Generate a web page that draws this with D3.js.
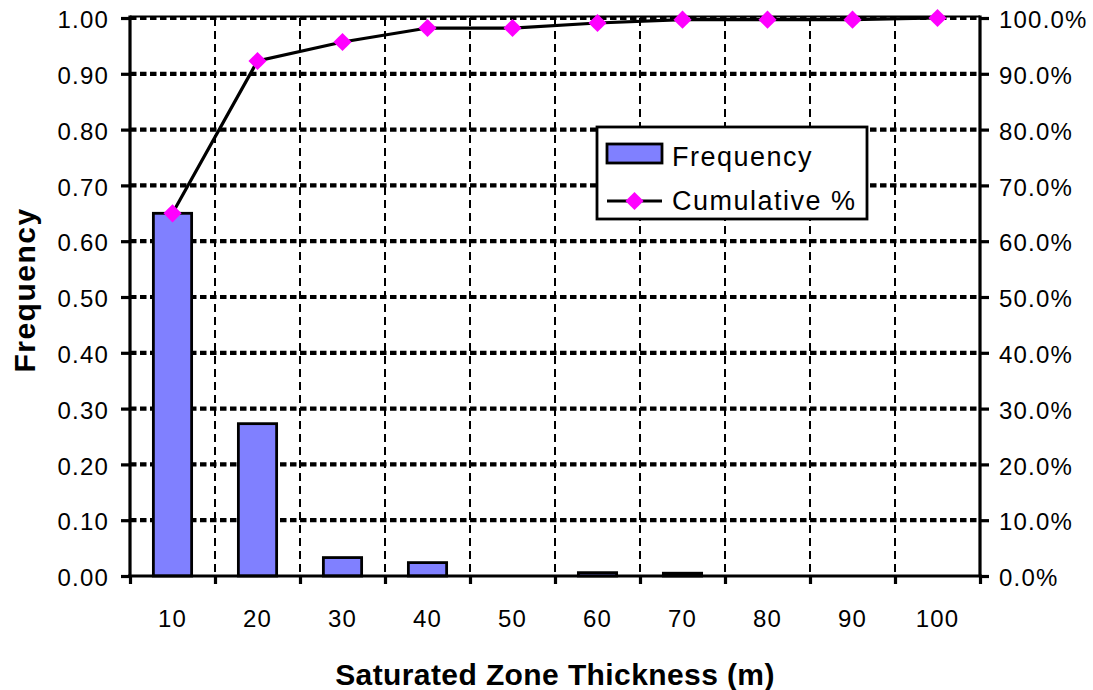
<!DOCTYPE html>
<html>
<head>
<meta charset="utf-8">
<script src="https://cdn.jsdelivr.net/npm/d3@7"></script>
<style>
  body { margin: 0; background: #fff; }
  svg text { font-family: "Liberation Sans", Arial, sans-serif; fill: #000; }
</style>
</head>
<body>
<svg id="chart" width="1093" height="690"></svg>
<script>
const categories = ["10", "20", "30", "40", "50", "60", "70", "80", "90", "100"];
const frequency = [0.65, 0.273, 0.033, 0.024, 0, 0.006, 0.005, 0, 0, 0];
const cumulative = [0.65, 0.923, 0.957, 0.982, 0.982, 0.991, 0.997, 0.997, 0.997, 1.0];
const leftTicks = [0, 0.1, 0.2, 0.3, 0.4, 0.5, 0.6, 0.7, 0.8, 0.9, 1.0];
const xTitle = "Saturated Zone Thickness (m)";
const yTitle = "Frequency";
const legendLabels = ["Frequency", "Cumulative %"];

const svg = d3.select("#chart");
const L = 130, R = 980, T = 18, B = 576;

const x = d3.scaleBand().domain(categories).range([L, R]).padding(0);
const xb = d3.scaleLinear().domain([0, categories.length]).range([L, R]);
const y = d3.scaleLinear().domain([0, 1]).range([B, T]);
const y2 = d3.scaleLinear().domain([0, 1]).range([B, T]);

// vertical dashed grid at band boundaries
svg.append("g").selectAll("line")
  .data(d3.range(1, categories.length))
  .join("line")
  .attr("x1", d => xb(d)).attr("x2", d => xb(d))
  .attr("y1", T).attr("y2", B)
  .attr("stroke", "#000").attr("stroke-width", 2)
  .attr("stroke-dasharray", "8,5");

// horizontal dotted grid
svg.append("g").selectAll("line")
  .data(leftTicks.filter(d => d > 0))
  .join("line")
  .attr("x1", L).attr("x2", R)
  .attr("y1", d => y(d)).attr("y2", d => y(d))
  .attr("stroke", "#000").attr("stroke-width", 4.2)
  .attr("stroke-dasharray", "6.5,3.5");

// top border
svg.append("line").attr("x1", L).attr("x2", R).attr("y1", T - 1.5).attr("y2", T - 1.5)
  .attr("stroke", "#000").attr("stroke-width", 2);

// bars
const bw = x.bandwidth() * 0.45;
svg.append("g").selectAll("rect")
  .data(frequency.map((v, i) => ({ c: categories[i], v })).filter(d => d.v > 0))
  .join("rect")
  .attr("x", d => x(d.c) + x.bandwidth() / 2 - bw / 2)
  .attr("width", bw)
  .attr("y", d => y(d.v))
  .attr("height", d => B - y(d.v))
  .attr("fill", "#8080FF")
  .attr("stroke", "#000").attr("stroke-width", 2.8);

// axes
const fontSize = "24px";
const gl = svg.append("g").attr("transform", `translate(${L},0)`)
  .call(d3.axisLeft(y).tickValues(leftTicks).tickFormat(d3.format(".2f")).tickSize(9).tickPadding(11));
const gr = svg.append("g").attr("transform", `translate(${R},0)`)
  .call(d3.axisRight(y2).tickValues(leftTicks).tickFormat(d3.format(".1%")).tickSize(9).tickPadding(11));
const gb = svg.append("g").attr("transform", `translate(0,${B})`)
  .call(d3.axisBottom(xb).tickValues(d3.range(0, categories.length + 1)).tickFormat("").tickSize(8));
const gbl = svg.append("g").attr("transform", `translate(0,${B})`)
  .call(d3.axisBottom(x).tickSize(0).tickPadding(34));
gbl.select(".domain").remove();

[gl, gr, gb].forEach(g => {
  g.select(".domain").attr("stroke", "#000").attr("stroke-width", 3.2);
  g.selectAll(".tick line").attr("stroke", "#000").attr("stroke-width", 3.2);
});
gb.select(".domain").attr("d", `M${L - 2},0H${R + 2}`);
gl.select(".domain").attr("d", `M0,${B}V${T - 2.5}`);
gr.select(".domain").attr("d", `M0,${B}V${T - 2.5}`);
[gl, gr, gbl].forEach(g => {
  g.selectAll("text").attr("font-size", fontSize).attr("fill", "#000")
    .attr("font-family", "Liberation Sans, Arial, sans-serif")
    .style("letter-spacing", "1.2px");
});
gl.selectAll("text").attr("dy", "0.4em").attr("x", -21);
gr.selectAll("text").attr("dy", "0.4em").attr("x", 19);

// cumulative line
const line = d3.line()
  .x((d, i) => x(categories[i]) + x.bandwidth() / 2)
  .y(d => y2(d));
svg.append("path").datum(cumulative)
  .attr("d", line).attr("fill", "none")
  .attr("stroke", "#000").attr("stroke-width", 3.2);

const diamond = d3.symbol().type(d3.symbolDiamond2).size(210);
svg.append("g").selectAll("path")
  .data(cumulative)
  .join("path")
  .attr("transform", (d, i) => `translate(${x(categories[i]) + x.bandwidth() / 2},${y2(d)})`)
  .attr("d", diamond)
  .attr("fill", "#FF00FF");

// axis titles
svg.append("text")
  .attr("x", (L + R) / 2).attr("y", 685)
  .attr("text-anchor", "middle")
  .attr("font-size", "30px").attr("font-weight", "bold")
  .style("letter-spacing", "0.4px")
  .text(xTitle);
svg.append("text")
  .attr("transform", `translate(35,290) rotate(-90)`)
  .attr("text-anchor", "middle")
  .attr("font-size", "30px").attr("font-weight", "bold")
  .style("letter-spacing", "1.5px")
  .text(yTitle);

// legend
const lg = svg.append("g");
lg.append("rect").attr("x", 597).attr("y", 127).attr("width", 270).attr("height", 92)
  .attr("fill", "#fff").attr("stroke", "#000").attr("stroke-width", 2.8);
lg.append("rect").attr("x", 607).attr("y", 144).attr("width", 55).attr("height", 19)
  .attr("fill", "#8080FF").attr("stroke", "#000").attr("stroke-width", 2.8);
lg.append("line").attr("x1", 607).attr("x2", 662).attr("y1", 201).attr("y2", 201)
  .attr("stroke", "#000").attr("stroke-width", 3.2);
lg.append("path").attr("transform", "translate(634.5,201)").attr("d", diamond).attr("fill", "#FF00FF");
lg.selectAll("text.leg").data(legendLabels).join("text")
  .attr("class", "leg")
  .attr("x", 672).attr("y", (d, i) => 166 + i * 44)
  .attr("font-size", "27px")
  .style("letter-spacing", "1.5px")
  .text(d => d);
</script>
</body>
</html>
